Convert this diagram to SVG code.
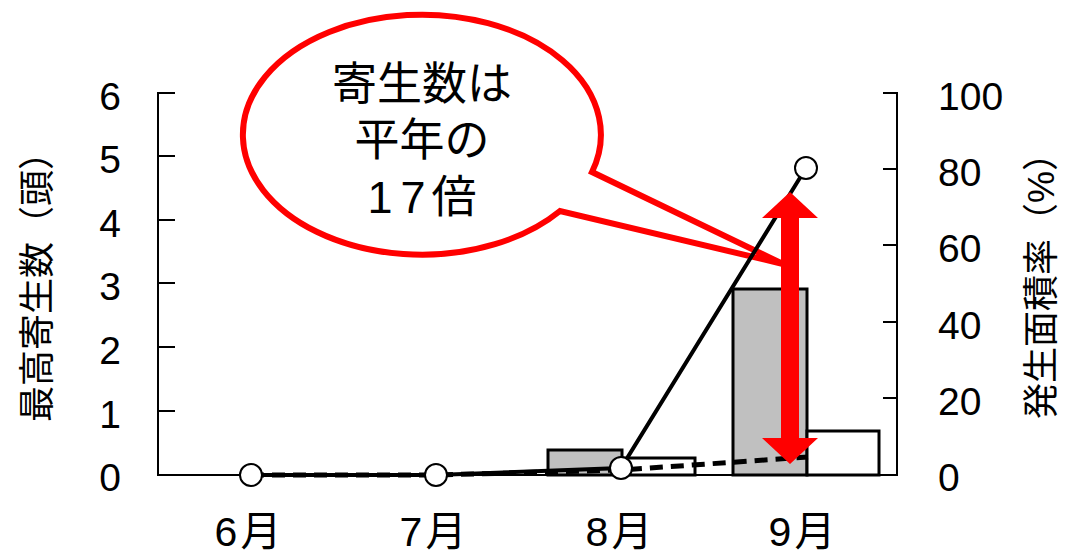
<svg xmlns="http://www.w3.org/2000/svg" width="1066" height="555" viewBox="0 0 1066 555">
<style>
.t{font-family:"Liberation Sans","Noto Sans CJK JP",sans-serif;fill:#000}
.num{font-size:39px}
.mon{font-size:41px;text-anchor:middle}
.ttl{font-size:36px;text-anchor:middle}
.ax{stroke:#000;stroke-width:2;fill:none}
.bar{stroke:#000;stroke-width:3}
.pt{fill:#fff;stroke:#000;stroke-width:2}
</style>
<rect width="1066" height="555" fill="#fff"/>
<g id="callout">
<path d="M 592 172 A 179 120 0 1 0 560 211 L 783 264 Z" fill="#fff" stroke="#f00" stroke-width="6" stroke-linejoin="miter"/>
<text class="t" font-size="45" text-anchor="middle" x="422" y="100">寄生数は</text>
<text class="t" font-size="45" text-anchor="middle" x="422" y="156">平年の</text>
<text class="t" font-size="45" text-anchor="middle" x="422" y="213">1<tspan dx="8">7</tspan><tspan dx="6">倍</tspan></text>
</g>
<g id="axes">
<path class="ax" d="M175 93H158V475H897V93H883"/>
<path class="ax" d="M158 156H175M158 220H175M158 283H175M158 347H175M158 411H175"/>
<path class="ax" d="M883 169H897M883 245H897M883 322H897M883 398H897"/>
</g>
<g id="left-labels" class="t num" text-anchor="end">
<text x="121" y="110">6</text>
<text x="121" y="173">5</text>
<text x="121" y="237">4</text>
<text x="121" y="300">3</text>
<text x="121" y="364">2</text>
<text x="121" y="428">1</text>
<text x="121" y="491">0</text>
</g>
<g id="right-labels" class="t num">
<text x="938" y="110">100</text>
<text x="938" y="186">80</text>
<text x="938" y="262">60</text>
<text x="938" y="339">40</text>
<text x="938" y="415">20</text>
<text x="938" y="491">0</text>
</g>
<g id="month-labels" class="t mon">
<text x="248" y="546">6<tspan dx="3">月</tspan></text>
<text x="433" y="546">7<tspan dx="3">月</tspan></text>
<text x="619" y="546">8<tspan dx="3">月</tspan></text>
<text x="802" y="546">9<tspan dx="3">月</tspan></text>
</g>
<g id="axis-titles" class="t ttl">
<text transform="translate(50 278) rotate(-90)">最高寄生数（頭）</text>
<text transform="translate(1054 277) rotate(-90)">発生面積率（%）</text>
</g>
<g id="bars">
<rect class="bar" x="548" y="450" width="74" height="25" fill="#c0c0c0"/>
<rect class="bar" x="622" y="458" width="73" height="17" fill="#fff"/>
<rect class="bar" x="733" y="289" width="74" height="186" fill="#c0c0c0"/>
<rect class="bar" x="807" y="431" width="72" height="44" fill="#fff"/>
</g>
<g id="lines">
<path d="M251 475L436 475L621 470L808 457" fill="none" stroke="#000" stroke-width="5" stroke-dasharray="13 8"/>
<path d="M251 475L436 475L621 468L806 168" fill="none" stroke="#000" stroke-width="4"/>
<circle class="pt" cx="251" cy="475" r="11"/>
<circle class="pt" cx="436" cy="475" r="11"/>
<circle class="pt" cx="621" cy="468" r="11"/>
<circle class="pt" cx="806" cy="168" r="11"/>
</g>
<g id="arrow">
<path d="M790 192L818 218H799V438H818L790 464L762 438H781V218H762Z" fill="#f00"/>
</g>
</svg>
